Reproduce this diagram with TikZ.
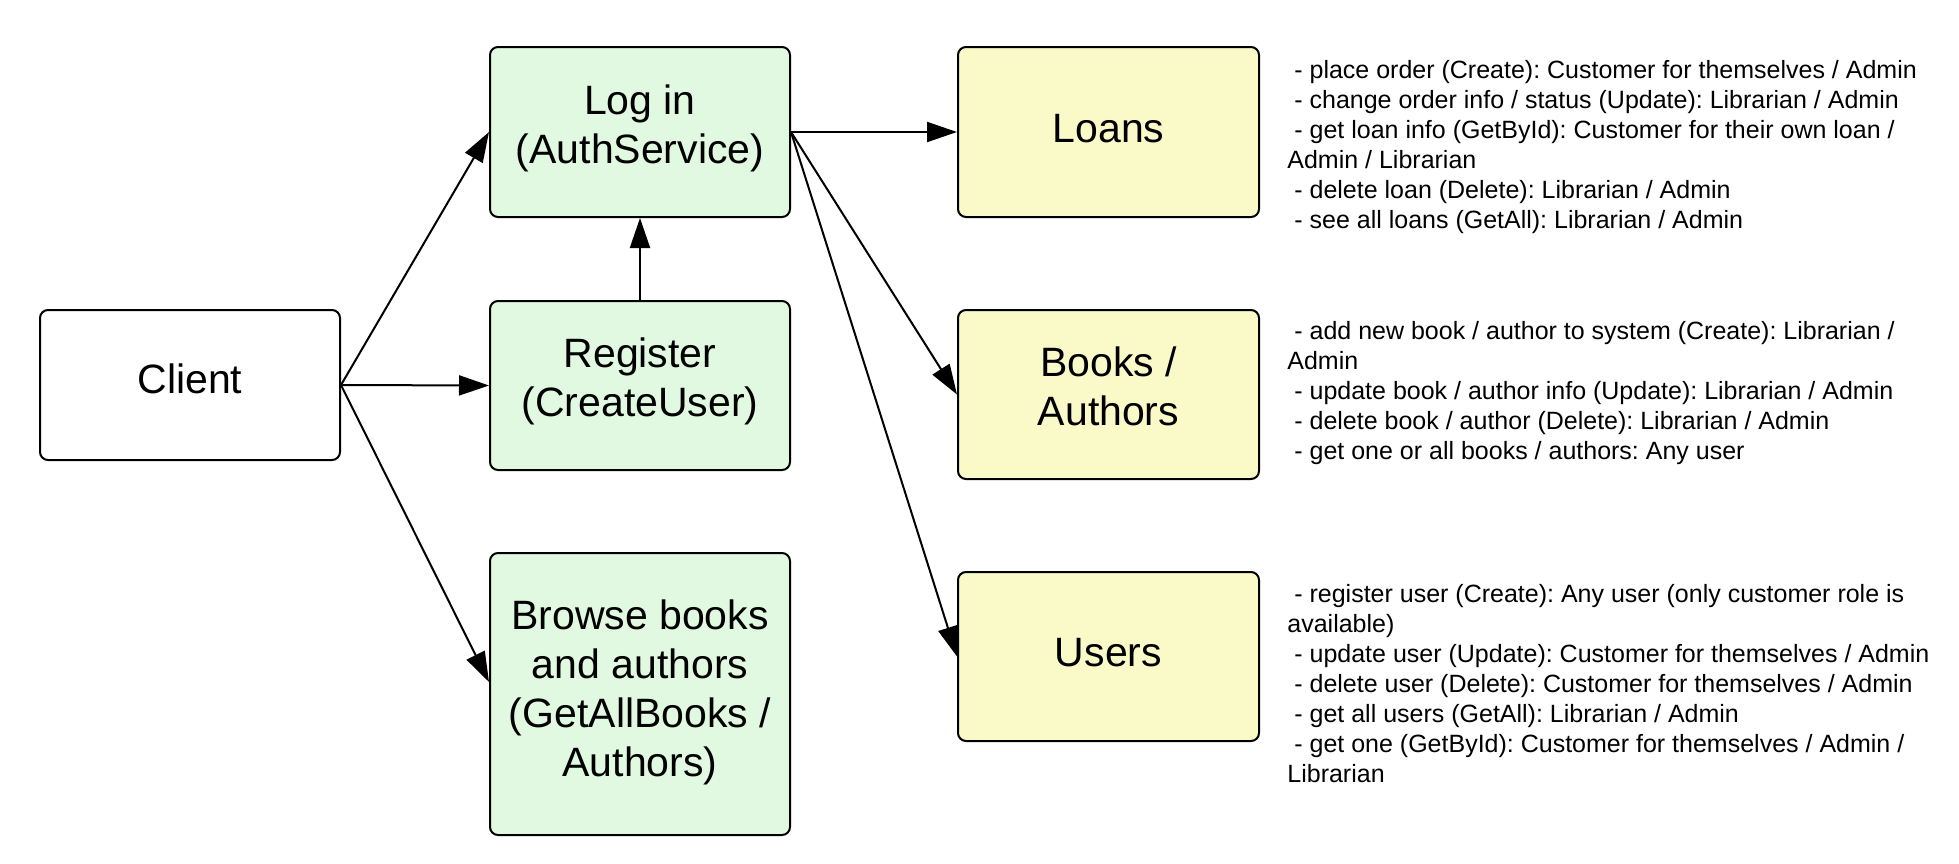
\documentclass[tikz,border=0pt]{standalone}
\usepackage{fontspec}
\setmainfont{Liberation Sans}
\frenchspacing
\usetikzlibrary{arrows.meta}
\definecolor{boxgreen}{HTML}{E2F9E1}
\definecolor{boxyellow}{HTML}{FAFAC9}
\newcommand{\lowpad}[1]{\rule[-#1]{0pt}{0pt}}
\begin{document}
\begin{tikzpicture}[x=0.5pt,y=-0.5pt,
  box/.style={draw=black, line width=1pt, rounded corners=4pt, minimum width=150pt,
    align=center, inner sep=0pt, font=\fontsize{20.5}{24.5}\selectfont},
  greenbox/.style={box, fill=boxgreen},
  yellowbox/.style={box, fill=boxyellow, minimum width=150.5pt, minimum height=84.5pt},
  notes/.style={anchor=north west, align=left, inner sep=0pt, font=\fontsize{12.5}{15}\selectfont},
  arr/.style={line width=1pt, -{Triangle[length=15pt,width=10pt]}}]
\useasboundingbox[fill=white] (0,0) rectangle (1959,863);

\node[box, fill=white, minimum height=75pt] (client) at (190,385) {Client\lowpad{6pt}};
\node[greenbox, minimum height=85pt] (login) at (640,132) {Log in\\(AuthService)\lowpad{8.3pt}};
\node[greenbox, minimum height=84.5pt] (register) at (640,385.5) {Register\\(CreateUser)\lowpad{8.3pt}};
\node[greenbox, minimum height=141pt] (browse) at (640,694) {Browse books\\and authors\\(GetAllBooks /\\Authors)\lowpad{5.5pt}};
\node[yellowbox, minimum height=85pt] (loans) at (1108.5,132) {Loans\lowpad{4pt}};
\node[yellowbox] (books) at (1108.5,394.5) {Books /\\Authors\lowpad{8pt}};
\node[yellowbox] (users) at (1108.5,656.5) {Users\lowpad{4pt}};

\draw[arr] (client.east) -- (login.west);
\draw[arr] (client.east) -- (register.west);
\draw[arr] (client.east) -- ([yshift=6pt]browse.west);
\draw[arr] (register.north) -- (login.south);
\draw[arr] (login.east) -- (loans.west);
\draw[arr] (login.east) -- (books.west);
\draw[arr] (login.east) -- (users.west);

\node[notes] (loansnotes) at (1287,59.5) {\ - place order (Create): Customer for themselves / Admin\\
\ - change order info / status (Update): Librarian / Admin\\
\ - get loan info (GetById): Customer for their own loan /\\
Admin / Librarian\\
\ - delete loan (Delete): Librarian / Admin\\
\ - see all loans (GetAll): Librarian / Admin};

\node[notes] (booksnotes) at (1287,320.5) {\ - add new book / author to system (Create): Librarian /\\
Admin\\
\ - update book / author info (Update): Librarian / Admin\\
\ - delete book / author (Delete): Librarian / Admin\\
\ - get one or all books / authors: Any user};

\node[notes] (usersnotes) at (1287,584) {\ - register user (Create): Any user (only customer role is\\
available)\\
\ - update user (Update): Customer for themselves / Admin\\
\ - delete user (Delete): Customer for themselves / Admin\\
\ - get all users (GetAll): Librarian / Admin\\
\ - get one (GetById): Customer for themselves / Admin /\\
Librarian};
\end{tikzpicture}
\end{document}
